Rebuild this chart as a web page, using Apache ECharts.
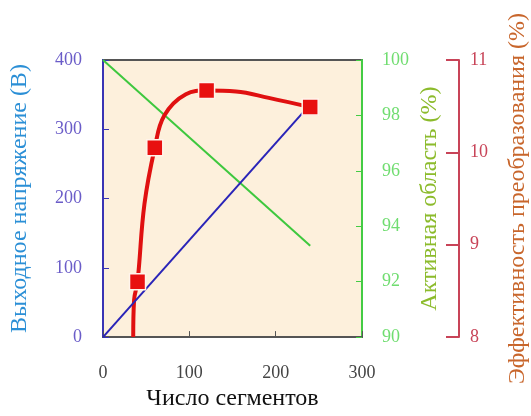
<!DOCTYPE html>
<html>
<head>
<meta charset="utf-8">
<script src="https://cdn.jsdelivr.net/npm/echarts@6/dist/echarts.min.js"></script>
<style>
  html, body { margin: 0; padding: 0; background: #fff; }
  #chartBox { width: 531px; height: 416px; }
</style>
</head>
<body>
<div id="chartBox"></div>
<script>
// число сегментов / выходное напряжение
const voltN = [0, 240]
const voltV = [0, 336]
// активная область
const areaN = [0, 240]
const areaPct = [100, 93.3]
// эффективность: измеренные точки
const effN = [40, 60, 120, 240]
const effPct = [8.6, 10.05, 10.67, 10.49]
// эффективность: кривая
const effCurveN = [35, 36, 40, 48, 60, 71, 96, 120, 154, 192, 240]
const effCurvePct = [8.0, 8.4, 8.6, 9.44, 10.05, 10.4, 10.63, 10.67, 10.66, 10.59, 10.49]
const xTicks = [0, 100, 200, 300]

const serif = 'Liberation Serif'
const pair = (xs, ys) => xs.map((x, i) => [x, ys[i]])

let myChart = echarts.init(document.getElementById('chartBox'))
myChart.setOption({
  animation: false,
  grid: {
    left: 103,
    top: 60,
    width: 260,
    height: 283,
    show: true,
    backgroundColor: '#fdf0dc',
    borderColor: '#555',
    borderWidth: 2
  },
  xAxis: {
    type: 'value',
    min: xTicks[0],
    max: xTicks[xTicks.length - 1],
    interval: 100,
    name: 'Число сегментов',
    nameLocation: 'middle',
    nameGap: 44,
    nameTextStyle: { color: '#111', fontSize: 24, fontFamily: serif },
    axisLine: { lineStyle: { color: '#555', width: 2 } },
    axisTick: { inside: true, length: 6, lineStyle: { color: '#555' } },
    axisLabel: { margin: 27, color: '#444', fontSize: 18, fontFamily: serif },
    splitLine: { show: false }
  },
  yAxis: [
    {
      type: 'value',
      position: 'left',
      min: 0,
      max: 400,
      interval: 100,
      name: 'Выходное напряжение (В)',
      nameLocation: 'middle',
      nameRotate: 90,
      nameGap: 71,
      nameTextStyle: { color: '#2b8fd6', fontSize: 24, fontFamily: serif },
      axisLine: { show: true, lineStyle: { color: '#3a34b4', width: 2 } },
      axisTick: { show: true, inside: true, length: 6, lineStyle: { color: '#3a34b4' } },
      axisLabel: { margin: 21, color: '#6a5cc8', fontSize: 18, fontFamily: serif },
      splitLine: { show: false }
    },
    {
      type: 'value',
      position: 'right',
      min: 90,
      max: 100,
      interval: 2,
      name: 'Активная область (%)',
      nameLocation: 'middle',
      nameRotate: 90,
      nameGap: 56,
      nameTextStyle: { color: '#8cbb2c', fontSize: 24, fontFamily: serif },
      axisLine: { show: true, lineStyle: { color: '#44cc44', width: 2 } },
      axisTick: { show: true, inside: true, length: 6, lineStyle: { color: '#44cc44' } },
      axisLabel: { margin: 20, color: '#70dd70', fontSize: 18, fontFamily: serif },
      splitLine: { show: false }
    },
    {
      type: 'value',
      position: 'right',
      offset: 97,
      min: 8,
      max: 11,
      interval: 1,
      name: 'Эффективность преобразования (%)',
      nameLocation: 'middle',
      nameRotate: 90,
      nameGap: 47,
      nameTextStyle: { color: '#c8662c', fontSize: 24, fontFamily: serif },
      axisLine: { show: true, lineStyle: { color: '#c84458', width: 2 } },
      axisTick: { show: true, inside: true, length: 13, lineStyle: { color: '#c84458', width: 2 } },
      axisLabel: { margin: 11, color: '#c84458', fontSize: 18, fontFamily: serif },
      splitLine: { show: false }
    }
  ],
  series: [
    {
      name: 'Активная область',
      type: 'line',
      yAxisIndex: 1,
      showSymbol: false,
      lineStyle: { color: '#3ec83e', width: 2 },
      data: pair(areaN, areaPct)
    },
    {
      name: 'Эффективность',
      type: 'line',
      yAxisIndex: 2,
      smooth: 0.4,
      showSymbol: false,
      lineStyle: { color: '#e01010', width: 4 },
      data: pair(effCurveN, effCurvePct)
    },
    {
      name: 'Выходное напряжение',
      type: 'line',
      yAxisIndex: 0,
      showSymbol: false,
      lineStyle: { color: '#2a24b8', width: 2 },
      data: pair(voltN, voltV)
    },
    {
      name: 'Эффективность (точки)',
      type: 'scatter',
      yAxisIndex: 2,
      symbol: 'rect',
      symbolSize: 16,
      itemStyle: { color: '#e81010', borderColor: '#fff4ec', borderWidth: 1.5, opacity: 1 },
      z: 5,
      data: pair(effN, effPct)
    }
  ]
})
</script>
</body>
</html>
